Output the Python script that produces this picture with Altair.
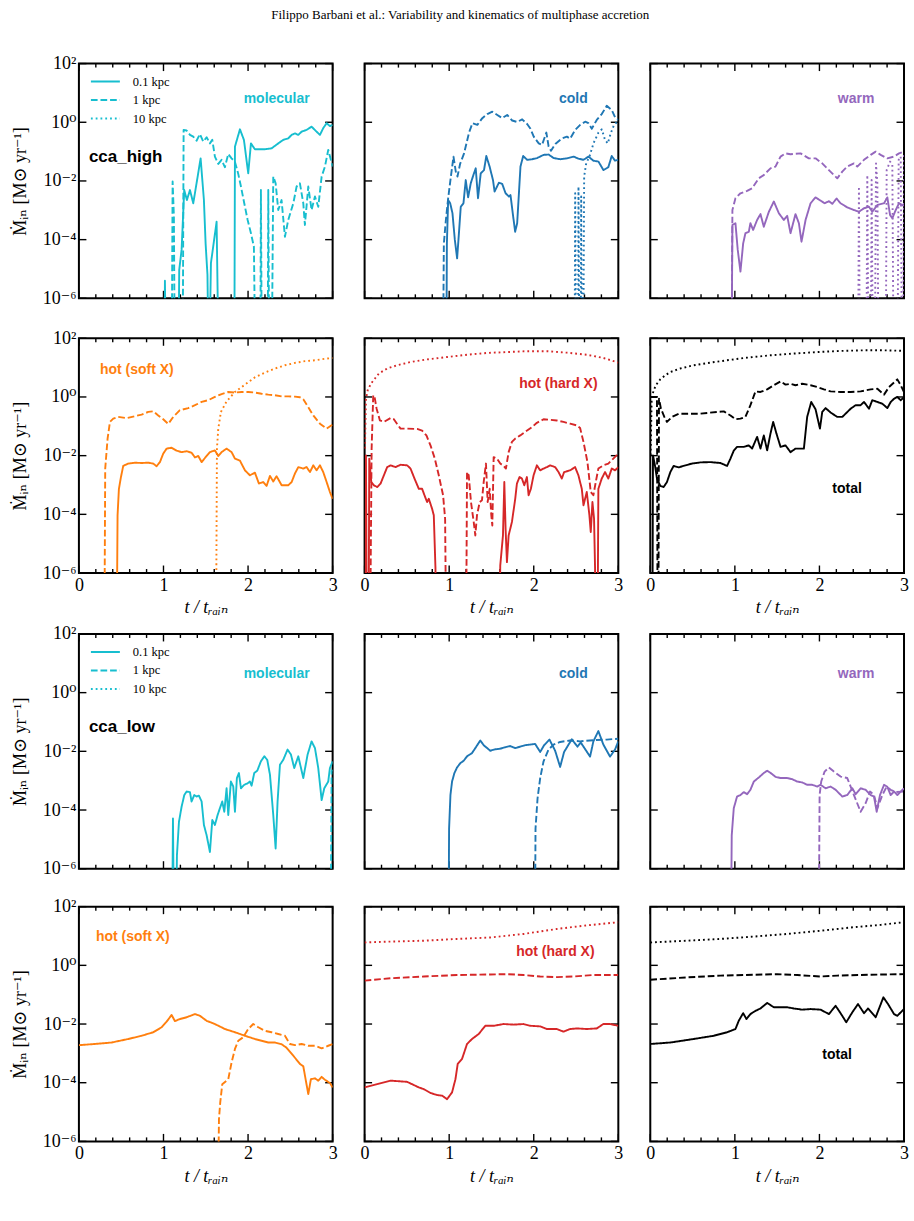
import altair as alt
import pandas as pd

SERIF = "Liberation Serif, DejaVu Serif, serif"
SANS = "Liberation Sans, Arimo, DejaVu Sans, sans-serif"

CYAN = "#17becf"
BLUE = "#1f77b4"
PURPLE = "#9467bd"
ORANGE = "#ff7f0e"
RED = "#d62728"
BLACK = "#000000"

W, H = 254, 235
ZERO = -9.0  # log10 value used where the inflow rate is zero (drawn below the axis)

RADII = ["0.1 kpc", "1 kpc", "10 kpc"]
DASHES = [[1, 0], [6.7, 2.9], [1.8, 3.0]]

Y_TICKS = [1e-6, 1e-4, 1e-2, 1e0, 1e2]
X_LABELS = [0, 1, 2, 3]
X_MINOR = [0.2, 0.4, 0.6, 0.8, 1.2, 1.4, 1.6, 1.8, 2.2, 2.4, 2.6, 2.8]

# ---------------------------------------------------------------- cca_high
mol_h_01_t = [1.01, 1.017, 1.033, 1.175, 1.186, 1.214, 1.245, 1.277, 1.313, 1.352, 1.391, 1.439, 1.478, 1.498, 1.52, 1.537, 1.561, 1.628, 1.656, 1.837, 1.845, 1.904, 1.951, 2.002, 2.034, 2.081, 2.14, 2.2, 2.278, 2.357, 2.416, 2.475, 2.515, 2.554, 2.594, 2.633, 2.692, 2.751, 2.81, 2.85, 2.889, 2.929, 2.968, 3.0]
mol_h_01_lg = [ZERO, -5.4, ZERO, ZERO, -5.03, -4.35, -2.31, -2.65, -2.31, -2.76, -2.08, -1.23, -2.65, -4.13, -5.2, ZERO, -4.8, -3.39, ZERO, ZERO, -0.83, -0.24, -0.6, -1.74, -0.72, -0.92, -0.92, -0.92, -0.89, -0.72, -0.6, -0.55, -0.43, -0.38, -0.43, -0.32, -0.26, -0.15, -0.32, -0.43, -0.2, -0.03, -0.13, -0.09]
mol_h_1_t = [1.096, 1.108, 1.123, 1.135, 1.226, 1.238, 1.273, 1.313, 1.352, 1.391, 1.431, 1.47, 1.51, 1.549, 1.577, 1.608, 1.648, 1.687, 1.726, 1.766, 1.805, 1.845, 1.884, 1.916, 1.955, 1.995, 2.034, 2.069, 2.089, 2.144, 2.152, 2.164, 2.231, 2.239, 2.251, 2.278, 2.298, 2.326, 2.357, 2.396, 2.436, 2.475, 2.535, 2.574, 2.613, 2.653, 2.672, 2.712, 2.751, 2.791, 2.83, 2.87, 2.909, 2.948, 3.0]
mol_h_1_lg = [ZERO, -2.02, -3.2, ZERO, ZERO, -0.26, -0.28, -0.43, -0.49, -0.63, -0.4, -0.66, -0.51, -0.72, -0.6, -1.17, -1.42, -1.28, -1.53, -1.08, -1.23, -1.35, -1.76, -2.19, -2.76, -3.33, -3.78, -4.24, ZERO, ZERO, -2.31, ZERO, ZERO, -2.31, ZERO, ZERO, -1.85, -2.08, -2.99, -2.65, -3.9, -3.33, -2.76, -2.19, -2.08, -2.76, -3.5, -2.19, -2.99, -2.53, -2.88, -1.85, -1.51, -0.94, -1.51]

cold_h_01_t = [0.965, 0.973, 0.988, 1.012, 1.039, 1.067, 1.094, 1.118, 1.137, 1.169, 1.196, 1.224, 1.255, 1.286, 1.314, 1.341, 1.373, 1.412, 1.439, 1.478, 1.518, 1.537, 1.588, 1.627, 1.667, 1.706, 1.725, 1.757, 1.78, 1.804, 1.843, 1.875, 1.922, 1.98, 2.039, 2.118, 2.176, 2.235, 2.314, 2.392, 2.471, 2.529, 2.588, 2.647, 2.706, 2.765, 2.824, 2.882, 2.922, 2.961, 3.0]
cold_h_01_lg = [ZERO, -4.13, -2.65, -2.76, -3.1, -4.01, -4.64, -3.67, -2.88, -2.76, -1.97, -2.56, -2.08, -1.8, -1.57, -2.59, -1.74, -1.63, -1.15, -1.51, -1.97, -2.36, -2.06, -2.1, -2.42, -2.53, -2.48, -3.22, -3.73, -3.44, -1.51, -1.15, -1.28, -1.26, -1.22, -1.11, -1.1, -1.22, -1.26, -1.23, -1.17, -1.24, -1.28, -1.17, -1.31, -1.34, -1.63, -1.53, -1.15, -1.31, -1.28]
cold_h_1_t = [0.925, 0.937, 0.961, 0.988, 1.02, 1.051, 1.078, 1.098, 1.129, 1.176, 1.235, 1.275, 1.333, 1.392, 1.451, 1.51, 1.569, 1.627, 1.686, 1.745, 1.804, 1.863, 1.922, 1.961, 2.0, 2.059, 2.098, 2.149, 2.176, 2.204, 2.255, 2.333, 2.392, 2.431, 2.49, 2.549, 2.608, 2.647, 2.686, 2.745, 2.804, 2.863, 2.922, 2.961, 3.0]
cold_h_1_lg = [ZERO, -4.13, -3.33, -2.59, -1.85, -1.17, -1.68, -1.85, -1.42, -1.06, -0.35, -0.03, -0.09, 0.14, 0.28, 0.36, 0.25, 0.14, 0.25, 0.06, 0.01, 0.1, -0.06, -0.22, -0.49, -0.72, -0.77, -0.35, -0.83, -0.97, -0.74, -0.55, -0.49, -0.56, -0.26, -0.09, 0.02, -0.03, -0.22, 0.08, 0.28, 0.56, 0.42, 0.17, 0.08]
cold_h_10_t = [2.482, 2.49, 2.502, 2.522, 2.529, 2.541, 2.553, 2.561, 2.573, 2.584, 2.596, 2.62, 2.659, 2.706, 2.765, 2.804, 2.843, 2.875, 2.91, 2.949, 3.0]
cold_h_10_lg = [ZERO, -2.42, ZERO, ZERO, -2.19, ZERO, ZERO, -2.53, ZERO, ZERO, -1.85, -1.4, -1.17, -0.72, -0.35, -0.24, -0.6, -0.72, -0.38, -0.09, 0.06]

warm_h_01_t = [0.959, 0.971, 1.007, 1.034, 1.066, 1.098, 1.125, 1.165, 1.184, 1.216, 1.263, 1.303, 1.342, 1.402, 1.461, 1.52, 1.579, 1.619, 1.658, 1.717, 1.757, 1.788, 1.836, 1.895, 1.954, 2.013, 2.061, 2.112, 2.152, 2.203, 2.25, 2.329, 2.408, 2.467, 2.527, 2.586, 2.625, 2.685, 2.764, 2.803, 2.835, 2.862, 2.902, 2.941, 3.0]
warm_h_01_lg = [ZERO, -3.5, -3.44, -4.35, -5.09, -4.13, -3.78, -3.73, -3.44, -3.67, -3.33, -3.13, -3.56, -3.05, -2.7, -3.1, -3.33, -3.19, -3.78, -3.13, -3.44, -4.07, -3.33, -2.76, -2.56, -2.67, -2.76, -2.69, -2.78, -2.6, -2.76, -2.9, -2.99, -3.05, -2.93, -2.88, -3.05, -2.82, -2.76, -2.56, -3.16, -3.27, -2.99, -2.76, -2.85]
warm_h_1_t = [0.959, 0.971, 1.007, 1.066, 1.145, 1.204, 1.283, 1.342, 1.421, 1.48, 1.54, 1.599, 1.658, 1.777, 1.875, 1.954, 2.033, 2.112, 2.211, 2.27, 2.329, 2.408, 2.448, 2.527, 2.606, 2.665, 2.724, 2.803, 2.882, 2.941, 3.0]
warm_h_1_lg = [ZERO, -2.99, -2.59, -2.42, -2.34, -2.25, -1.91, -1.8, -1.57, -1.51, -1.17, -1.06, -1.09, -1.06, -1.23, -1.23, -1.4, -1.63, -1.91, -1.68, -1.51, -1.4, -1.51, -1.28, -1.11, -1.0, -1.11, -1.23, -1.17, -1.06, -1.0]
warm_h_10_t = [2.456, 2.467, 2.479, 2.554, 2.566, 2.582, 2.606, 2.617, 2.633, 2.653, 2.669, 2.685, 2.7, 2.783, 2.795, 2.835, 2.862, 2.878, 2.921, 2.937, 2.961, 2.977, 2.992, 3.0]
warm_h_10_lg = [ZERO, -2.19, ZERO, ZERO, -1.8, ZERO, ZERO, -1.97, ZERO, ZERO, -1.4, -2.08, ZERO, ZERO, -1.63, -1.34, -1.45, ZERO, ZERO, -1.28, -1.17, ZERO, ZERO, -1.06]

soft_h_01_t = [0.445, 0.457, 0.473, 0.497, 0.524, 0.583, 0.662, 0.741, 0.82, 0.879, 0.918, 0.958, 0.997, 1.037, 1.096, 1.155, 1.214, 1.273, 1.332, 1.372, 1.411, 1.451, 1.49, 1.549, 1.608, 1.648, 1.687, 1.746, 1.805, 1.845, 1.904, 1.963, 2.022, 2.081, 2.128, 2.18, 2.219, 2.259, 2.298, 2.337, 2.397, 2.475, 2.515, 2.554, 2.594, 2.653, 2.692, 2.732, 2.771, 2.81, 2.85, 2.889, 2.929, 2.968, 3.0]
soft_h_01_lg = [ZERO, -4.03, -3.13, -2.73, -2.35, -2.27, -2.24, -2.25, -2.24, -2.27, -2.36, -2.22, -1.93, -1.76, -1.73, -1.83, -1.88, -1.85, -1.9, -2.06, -2.01, -2.22, -2.08, -1.88, -1.82, -2.01, -1.88, -1.76, -1.88, -2.1, -2.17, -2.5, -2.67, -2.58, -2.95, -2.9, -3.03, -2.69, -2.88, -2.7, -3.01, -3.01, -2.9, -2.61, -2.39, -2.44, -2.39, -2.56, -2.33, -2.5, -2.33, -2.56, -2.9, -3.24, -3.47]
soft_h_1_t = [0.3, 0.311, 0.339, 0.367, 0.406, 0.465, 0.564, 0.642, 0.741, 0.82, 0.879, 0.938, 0.997, 1.056, 1.115, 1.194, 1.293, 1.372, 1.451, 1.529, 1.608, 1.687, 1.766, 1.845, 1.924, 2.002, 2.081, 2.16, 2.239, 2.318, 2.397, 2.475, 2.554, 2.613, 2.653, 2.704, 2.771, 2.85, 2.929, 3.0]
soft_h_1_lg = [ZERO, -2.44, -1.42, -0.85, -0.74, -0.68, -0.72, -0.67, -0.6, -0.51, -0.49, -0.63, -0.76, -0.92, -0.68, -0.45, -0.38, -0.28, -0.17, -0.11, 0.0, 0.1, 0.17, 0.15, 0.17, 0.17, 0.15, 0.11, 0.08, 0.06, 0.02, 0.02, 0.01, -0.01, -0.08, -0.31, -0.63, -0.91, -1.08, -0.94]
soft_h_10_t = [1.62, 1.632, 1.648, 1.679, 1.746, 1.845, 1.963, 2.081, 2.199, 2.318, 2.436, 2.554, 2.672, 2.791, 2.909, 3.0]
soft_h_10_lg = [ZERO, -1.76, -1.08, -0.51, -0.15, 0.17, 0.42, 0.67, 0.83, 0.97, 1.08, 1.16, 1.22, 1.25, 1.3, 1.33]

hard_h_01_t = [0.008, 0.016, 0.028, 0.047, 0.055, 0.079, 0.11, 0.149, 0.189, 0.228, 0.267, 0.307, 0.366, 0.425, 0.503, 0.543, 0.59, 0.641, 0.68, 0.708, 0.739, 0.759, 0.798, 0.818, 0.838, 0.845, 1.589, 1.604, 1.636, 1.652, 1.667, 1.683, 1.703, 1.742, 1.781, 1.801, 1.832, 1.86, 1.888, 1.919, 1.939, 1.966, 1.998, 2.037, 2.076, 2.116, 2.155, 2.194, 2.253, 2.293, 2.332, 2.359, 2.43, 2.489, 2.528, 2.568, 2.588, 2.627, 2.658, 2.674, 2.694, 2.713, 2.725, 2.733, 2.753, 2.764, 2.804, 2.843, 2.882, 2.922, 2.961, 3.0]
hard_h_01_lg = [ZERO, -1.99, ZERO, ZERO, -2.1, -2.9, -3.01, -3.07, -2.95, -2.67, -2.39, -2.33, -2.39, -2.31, -2.33, -2.44, -2.78, -3.13, -3.13, -3.35, -3.58, -3.47, -3.81, -4.03, -5.85, ZERO, ZERO, -5.74, -4.72, -2.9, -4.49, -5.63, -4.72, -4.26, -3.47, -2.95, -2.73, -2.78, -3.01, -2.73, -3.35, -3.13, -2.67, -2.33, -2.5, -2.44, -2.39, -2.33, -2.39, -2.56, -2.78, -2.56, -2.5, -2.39, -2.67, -3.13, -3.69, -3.24, -4.03, -4.6, -3.58, -4.15, -5.85, ZERO, ZERO, -3.13, -2.78, -2.56, -2.78, -2.44, -2.5, -2.39]
hard_h_1_t = [0.063, 0.083, 0.102, 0.118, 0.142, 0.181, 0.228, 0.307, 0.346, 0.385, 0.425, 0.503, 0.621, 0.68, 0.731, 0.779, 0.83, 0.877, 0.928, 0.952, 0.967, 1.199, 1.211, 1.231, 1.258, 1.29, 1.309, 1.329, 1.361, 1.388, 1.408, 1.435, 1.455, 1.479, 1.498, 1.51, 1.526, 1.565, 1.604, 1.644, 1.671, 1.703, 1.742, 1.781, 1.84, 1.899, 1.978, 2.037, 2.116, 2.194, 2.273, 2.352, 2.43, 2.509, 2.548, 2.588, 2.635, 2.674, 2.705, 2.737, 2.764, 2.823, 2.882, 2.941, 3.0]
hard_h_1_lg = [ZERO, -1.76, 0.06, 0.0, -0.4, -0.8, -0.85, -0.72, -0.76, -0.92, -1.08, -1.08, -1.09, -1.15, -1.31, -1.65, -2.1, -2.67, -3.35, -4.15, ZERO, ZERO, -2.56, -2.67, -3.58, -4.26, -4.72, -4.03, -3.58, -3.52, -2.9, -2.27, -3.58, -3.13, -4.03, -4.38, -2.05, -2.1, -2.27, -2.35, -2.44, -1.88, -1.53, -1.42, -1.31, -1.19, -1.03, -0.88, -0.76, -0.78, -0.8, -0.85, -0.91, -0.97, -1.06, -1.53, -2.22, -3.24, -3.35, -2.84, -2.44, -2.33, -2.27, -2.1, -1.93]
hard_h_10_t = [0.004, 0.016, 0.039, 0.09, 0.169, 0.267, 0.385, 0.543, 0.739, 0.975, 1.211, 1.447, 1.683, 1.919, 2.155, 2.391, 2.627, 2.823, 3.0]
hard_h_10_lg = [-1.76, -0.06, 0.26, 0.51, 0.8, 0.97, 1.08, 1.19, 1.28, 1.36, 1.44, 1.5, 1.53, 1.56, 1.56, 1.51, 1.44, 1.33, 1.17]

tot_h_01_t = [0.024, 0.032, 0.055, 0.079, 0.118, 0.158, 0.197, 0.237, 0.276, 0.336, 0.415, 0.493, 0.592, 0.711, 0.829, 0.908, 0.948, 0.987, 1.026, 1.105, 1.165, 1.204, 1.263, 1.303, 1.342, 1.382, 1.421, 1.453, 1.492, 1.54, 1.599, 1.658, 1.717, 1.816, 1.855, 1.903, 1.954, 2.006, 2.033, 2.073, 2.132, 2.211, 2.27, 2.369, 2.428, 2.487, 2.527, 2.586, 2.625, 2.685, 2.744, 2.803, 2.843, 2.882, 2.921, 2.961, 3.0]
tot_h_01_lg = [ZERO, -1.99, -2.33, -2.78, -3.03, -3.07, -2.9, -2.56, -2.35, -2.4, -2.33, -2.27, -2.23, -2.22, -2.25, -2.35, -2.1, -1.83, -1.7, -1.7, -1.65, -1.76, -1.36, -1.76, -1.31, -1.82, -1.25, -0.85, -1.25, -1.7, -1.65, -1.88, -1.76, -1.76, -0.68, -0.17, -0.42, -1.08, -0.51, -0.38, -0.53, -0.68, -0.68, -0.4, -0.28, -0.28, -0.17, -0.4, -0.11, -0.17, -0.23, -0.38, -0.17, -0.06, 0.0, -0.11, -0.01]
tot_h_1_t = [0.004, 0.079, 0.087, 0.095, 0.103, 0.126, 0.166, 0.197, 0.257, 0.336, 0.434, 0.592, 0.79, 0.869, 0.948, 1.007, 1.066, 1.125, 1.184, 1.244, 1.303, 1.382, 1.461, 1.54, 1.599, 1.658, 1.717, 1.796, 1.895, 1.974, 2.053, 2.132, 2.25, 2.369, 2.487, 2.606, 2.685, 2.764, 2.823, 2.921, 2.961, 3.0]
tot_h_1_lg = [0.0, 0.0, ZERO, ZERO, -0.06, -0.4, -0.68, -0.85, -0.68, -0.57, -0.57, -0.57, -0.51, -0.49, -0.63, -0.76, -0.74, -0.68, -0.28, 0.19, 0.17, 0.26, 0.4, 0.53, 0.42, 0.45, 0.4, 0.45, 0.4, 0.34, 0.26, 0.19, 0.17, 0.17, 0.19, 0.26, 0.28, 0.08, 0.34, 0.6, 0.4, 0.17]
tot_h_10_t = [0.004, 0.016, 0.039, 0.079, 0.118, 0.178, 0.237, 0.355, 0.513, 0.711, 0.908, 1.145, 1.421, 1.698, 1.974, 2.25, 2.527, 2.764, 3.0]
tot_h_10_lg = [-1.99, -0.11, 0.23, 0.45, 0.6, 0.74, 0.85, 0.97, 1.08, 1.17, 1.25, 1.34, 1.42, 1.48, 1.53, 1.57, 1.59, 1.59, 1.57]

# ---------------------------------------------------------------- cca_low
mol_l_01_t = [1.1, 1.112, 1.127, 1.143, 1.159, 1.183, 1.214, 1.246, 1.273, 1.313, 1.332, 1.364, 1.391, 1.419, 1.451, 1.478, 1.51, 1.549, 1.577, 1.608, 1.64, 1.667, 1.695, 1.719, 1.746, 1.766, 1.797, 1.825, 1.845, 1.868, 1.892, 1.916, 1.955, 1.995, 2.022, 2.042, 2.073, 2.109, 2.152, 2.192, 2.227, 2.259, 2.298, 2.326, 2.349, 2.377, 2.416, 2.467, 2.507, 2.546, 2.594, 2.653, 2.704, 2.751, 2.791, 2.83, 2.87, 2.901, 2.948, 2.968, 3.0]
mol_l_01_lg = [ZERO, -4.29, ZERO, ZERO, -5.54, -4.4, -3.89, -3.49, -3.37, -3.39, -3.71, -3.49, -3.54, -3.51, -3.71, -4.51, -4.86, -5.43, -4.34, -4.51, -4.17, -3.94, -3.71, -4.06, -3.26, -4.17, -3.03, -3.2, -4.06, -2.91, -2.74, -3.26, -3.14, -3.09, -3.03, -3.17, -2.74, -2.66, -2.34, -2.17, -2.29, -2.8, -4.17, -5.31, -3.71, -2.46, -2.29, -1.94, -2.11, -2.57, -2.17, -2.91, -2.11, -1.66, -1.89, -2.57, -3.66, -3.26, -3.03, -2.57, -2.34]
mol_l_1_t = [2.976, 2.988, 3.0]
mol_l_1_lg = [ZERO, -2.69, -2.63]

cold_l_01_t = [0.991, 0.999, 1.015, 1.034, 1.062, 1.093, 1.133, 1.172, 1.211, 1.27, 1.309, 1.368, 1.408, 1.486, 1.545, 1.604, 1.663, 1.722, 1.781, 1.84, 1.899, 1.958, 2.017, 2.076, 2.123, 2.186, 2.253, 2.312, 2.359, 2.45, 2.517, 2.556, 2.666, 2.705, 2.764, 2.823, 2.902, 2.961, 3.0]
cold_l_01_lg = [ZERO, -4.63, -3.49, -3.03, -2.74, -2.55, -2.4, -2.32, -2.17, -2.06, -1.89, -1.63, -1.79, -1.98, -1.93, -1.91, -1.86, -1.82, -1.89, -1.84, -1.79, -1.77, -1.75, -2.02, -1.79, -1.6, -1.98, -2.53, -2.02, -1.59, -1.84, -1.7, -2.18, -1.66, -1.31, -1.77, -2.18, -1.94, -1.66]
cold_l_1_t = [2.013, 2.021, 2.045, 2.076, 2.116, 2.175, 2.234, 2.312, 2.43, 2.548, 2.705, 2.863, 3.0]
cold_l_1_lg = [ZERO, -4.63, -3.6, -2.91, -2.34, -1.94, -1.77, -1.68, -1.63, -1.66, -1.62, -1.6, -1.57]

warm_l_01_t = [0.951, 0.963, 0.987, 1.026, 1.066, 1.105, 1.145, 1.184, 1.224, 1.283, 1.342, 1.382, 1.429, 1.48, 1.54, 1.619, 1.678, 1.737, 1.796, 1.855, 1.915, 1.974, 2.013, 2.073, 2.132, 2.191, 2.27, 2.329, 2.389, 2.428, 2.487, 2.546, 2.606, 2.645, 2.677, 2.716, 2.764, 2.803, 2.842, 2.882, 2.921, 3.0]
warm_l_01_lg = [ZERO, -4.86, -3.94, -3.54, -3.49, -3.39, -3.46, -3.31, -3.03, -2.89, -2.74, -2.66, -2.75, -2.87, -2.91, -2.91, -2.95, -3.03, -3.06, -3.14, -3.14, -3.2, -3.14, -3.26, -3.2, -3.31, -3.54, -3.49, -3.26, -3.46, -3.26, -3.31, -3.49, -3.54, -4.06, -3.49, -3.14, -3.21, -3.49, -3.37, -3.49, -3.26]
warm_l_1_t = [1.99, 2.002, 2.021, 2.061, 2.112, 2.171, 2.25, 2.329, 2.408, 2.487, 2.546, 2.598, 2.645, 2.685, 2.744, 2.795, 2.842, 2.902, 3.0]
warm_l_1_lg = [ZERO, -3.49, -3.03, -2.69, -2.55, -2.69, -2.86, -2.91, -3.49, -4.06, -3.77, -3.37, -3.49, -3.94, -3.49, -3.2, -3.31, -3.39, -3.37]

soft_l_01_t = [0.0, 0.189, 0.386, 0.583, 0.741, 0.879, 0.978, 1.037, 1.096, 1.135, 1.194, 1.273, 1.372, 1.431, 1.51, 1.608, 1.726, 1.845, 1.963, 2.081, 2.16, 2.239, 2.318, 2.397, 2.456, 2.535, 2.613, 2.653, 2.712, 2.743, 2.791, 2.83, 2.87, 2.909, 2.968, 3.0]
soft_l_01_lg = [-2.72, -2.68, -2.63, -2.51, -2.4, -2.28, -2.11, -1.92, -1.69, -1.9, -1.83, -1.77, -1.66, -1.72, -1.89, -2.0, -2.17, -2.28, -2.4, -2.51, -2.57, -2.63, -2.63, -2.69, -2.81, -3.08, -3.36, -3.44, -4.39, -3.88, -3.85, -3.93, -3.8, -3.9, -4.01, -4.16]
soft_l_1_t = [1.64, 1.656, 1.671, 1.695, 1.766, 1.805, 1.845, 1.884, 1.943, 2.002, 2.061, 2.121, 2.199, 2.278, 2.357, 2.436, 2.495, 2.554, 2.633, 2.712, 2.791, 2.87, 2.948, 3.0]
soft_l_1_lg = [ZERO, -5.24, -4.67, -4.05, -3.88, -3.31, -2.85, -2.57, -2.45, -2.17, -2.0, -2.11, -2.23, -2.28, -2.34, -2.4, -2.68, -2.72, -2.68, -2.74, -2.74, -2.83, -2.74, -2.68]

hard_l_01_t = [0.0, 0.149, 0.307, 0.503, 0.641, 0.7, 0.779, 0.857, 0.916, 0.975, 1.034, 1.074, 1.101, 1.152, 1.211, 1.27, 1.349, 1.427, 1.526, 1.644, 1.762, 1.88, 1.958, 2.076, 2.155, 2.273, 2.352, 2.43, 2.509, 2.627, 2.745, 2.823, 2.902, 3.0]
hard_l_01_lg = [-4.16, -4.05, -3.93, -3.97, -4.16, -4.22, -4.35, -4.42, -4.44, -4.56, -4.33, -3.88, -3.36, -3.19, -2.68, -2.51, -2.34, -2.06, -2.06, -2.0, -2.02, -2.0, -2.06, -2.08, -2.17, -2.17, -2.26, -2.17, -2.15, -2.17, -2.15, -2.0, -2.0, -2.06]
hard_l_1_t = [0.0, 0.307, 0.7, 1.093, 1.486, 1.683, 1.88, 2.076, 2.273, 2.469, 2.705, 3.0]
hard_l_1_lg = [-0.52, -0.44, -0.38, -0.33, -0.31, -0.3, -0.33, -0.38, -0.4, -0.38, -0.33, -0.33]
hard_l_10_t = [0.0, 0.307, 0.7, 1.093, 1.486, 1.88, 2.273, 2.588, 3.0]
hard_l_10_lg = [0.78, 0.81, 0.84, 0.9, 0.95, 1.07, 1.24, 1.35, 1.47]

tot_l_01_t = [0.0, 0.237, 0.513, 0.75, 0.908, 1.007, 1.046, 1.098, 1.137, 1.184, 1.244, 1.303, 1.382, 1.461, 1.54, 1.619, 1.698, 1.796, 1.895, 2.013, 2.112, 2.191, 2.25, 2.317, 2.389, 2.456, 2.527, 2.574, 2.665, 2.756, 2.811, 2.882, 2.921, 3.0]
tot_l_01_lg = [-2.68, -2.63, -2.51, -2.4, -2.28, -2.17, -1.89, -1.63, -1.83, -1.66, -1.55, -1.47, -1.28, -1.43, -1.43, -1.43, -1.47, -1.51, -1.49, -1.51, -1.66, -1.38, -1.63, -1.94, -1.6, -1.32, -1.63, -1.47, -1.77, -1.09, -1.32, -1.66, -1.72, -1.49]
tot_l_1_t = [0.0, 0.434, 0.829, 1.224, 1.5, 1.737, 2.013, 2.211, 2.606, 3.0]
tot_l_1_lg = [-0.49, -0.41, -0.35, -0.32, -0.3, -0.33, -0.38, -0.35, -0.32, -0.3]
tot_l_10_t = [0.0, 0.434, 0.829, 1.224, 1.619, 2.013, 2.408, 2.724, 3.0]
tot_l_10_lg = [0.78, 0.84, 0.9, 0.98, 1.07, 1.18, 1.3, 1.38, 1.47]

# ---------------------------------------------------------------- scales and guides
XSCALE = alt.Scale(domain=[0, 3], nice=False, zero=False)
YSCALE = alt.Scale(type="log", domain=[1e-6, 1e2], nice=False)
DASH_SCALE = alt.Scale(domain=RADII, range=DASHES)

X_TITLE = "t / tᵣₐᵢₙ"
Y_TITLE = "Ṁᵢₙ [M⊙ yr⁻¹]"

X_AXIS = alt.Axis(
    values=X_LABELS, format="d", ticks=False, domain=False, grid=False,
    labelFont=SERIF, labelFontSize=18, labelColor=BLACK, labelPadding=3,
    labelFlush=False, labelOverlap=False,
    titleFont=SERIF, titleFontSize=18, titleFontWeight="normal",
    titleFontStyle="italic", titleColor=BLACK, titlePadding=5,
)
Y_AXIS = alt.Axis(
    values=Y_TICKS, ticks=False, domain=False, grid=False,
    labelExpr="'10' + ['⁻⁶','⁻⁵','⁻⁴','⁻³','⁻²','⁻¹','⁰','¹','²'][round(log(datum.value) / LN10) + 6]",
    labelFont=SERIF, labelFontSize=18, labelColor=BLACK, labelPadding=3,
    labelOverlap=False, labelFlush=False,
    titleFont=SERIF, titleFontSize=18, titleFontWeight="normal",
    titleColor=BLACK, titlePadding=2, minExtent=47, maxExtent=47,
)


def dash_legend(color):
    return alt.Legend(
        orient="none", legendX=15.5, legendY=7, title=None, padding=0,
        symbolType="M-1.45,0H1.45", symbolSize=400, symbolStrokeWidth=2,
        symbolStrokeColor=color, symbolFillColor="transparent",
        labelFont=SERIF, labelFontSize=12.5, labelColor=BLACK,
        labelOffset=16.5, rowPadding=0.5,
    )


yt_df = pd.DataFrame({"m": Y_TICKS})
xmaj_df = pd.DataFrame({"t": X_LABELS})
xmin_df = pd.DataFrame({"t": X_MINOR})
one_df = pd.DataFrame({"t": [0]})


def panel(series, color, name, name_xy, xaxis=False, yaxis=False,
          legend=False, run=None):
    rows = []
    for radius, ts, lgs in series:
        for i, (t, lg) in enumerate(zip(ts, lgs)):
            rows.append({"t": t, "m": 10.0 ** lg, "r": radius, "i": i})
    df = pd.DataFrame(rows)

    X = alt.X("t:Q", scale=XSCALE, axis=X_AXIS if xaxis else None, title=X_TITLE)
    Y = alt.Y("m:Q", scale=YSCALE, axis=Y_AXIS if yaxis else None, title=Y_TITLE)

    tick = dict(color=BLACK, strokeWidth=1.4)
    layers = [
        alt.Chart(yt_df).mark_rule(**tick).encode(y=Y, x=alt.value(0), x2=alt.value(7.5)),
        alt.Chart(yt_df).mark_rule(**tick).encode(y=Y, x=alt.value(W - 7.5), x2=alt.value(W)),
        alt.Chart(xmaj_df).mark_rule(**tick).encode(x=X, y=alt.value(0), y2=alt.value(7.5)),
        alt.Chart(xmin_df).mark_rule(**tick).encode(x=X, y=alt.value(0), y2=alt.value(4)),
        alt.Chart(xmaj_df).mark_rule(**tick).encode(x=X, y=alt.value(H - 7.5), y2=alt.value(H)),
        alt.Chart(xmin_df).mark_rule(**tick).encode(x=X, y=alt.value(H - 4), y2=alt.value(H)),
        alt.Chart(df).mark_line(
            clip=True, color=color, strokeWidth=1.9, strokeJoin="round", strokeCap="butt"
        ).encode(
            x=X, y=Y,
            strokeDash=alt.StrokeDash("r:N", scale=DASH_SCALE,
                                      legend=dash_legend(color) if legend else None),
            order=alt.Order("i:Q"),
        ),
        alt.Chart(one_df).mark_text(
            font=SANS, fontSize=14, fontWeight="bold", color=color,
            align="center", baseline="middle",
        ).encode(x=alt.value(name_xy[0]), y=alt.value(name_xy[1]), text=alt.value(name)),
    ]
    if run is not None:
        layers.append(
            alt.Chart(one_df).mark_text(
                font=SANS, fontSize=17, fontWeight="bold", color=BLACK,
                align="left", baseline="middle",
            ).encode(x=alt.value(10), y=alt.value(run[1]), text=alt.value(run[0]))
        )
    return alt.layer(*layers).properties(width=W, height=H)


def independent(c):
    return c.resolve_scale(strokeDash="independent").resolve_legend(strokeDash="independent")


def row(*panels):
    return independent(alt.hconcat(*panels, spacing=32, bounds="flush"))


row1 = row(
    panel([("0.1 kpc", mol_h_01_t, mol_h_01_lg), ("1 kpc", mol_h_1_t, mol_h_1_lg)],
          CYAN, "molecular", (198, 35), yaxis=True, legend=True, run=("cca_high", 94)),
    panel([("0.1 kpc", cold_h_01_t, cold_h_01_lg), ("1 kpc", cold_h_1_t, cold_h_1_lg),
           ("10 kpc", cold_h_10_t, cold_h_10_lg)], BLUE, "cold", (209, 35)),
    panel([("0.1 kpc", warm_h_01_t, warm_h_01_lg), ("1 kpc", warm_h_1_t, warm_h_1_lg),
           ("10 kpc", warm_h_10_t, warm_h_10_lg)], PURPLE, "warm", (206, 35)),
)
row2 = row(
    panel([("0.1 kpc", soft_h_01_t, soft_h_01_lg), ("1 kpc", soft_h_1_t, soft_h_1_lg),
           ("10 kpc", soft_h_10_t, soft_h_10_lg)], ORANGE, "hot (soft X)", (58, 32),
          xaxis=True, yaxis=True),
    panel([("0.1 kpc", hard_h_01_t, hard_h_01_lg), ("1 kpc", hard_h_1_t, hard_h_1_lg),
           ("10 kpc", hard_h_10_t, hard_h_10_lg)], RED, "hot (hard X)", (194, 46), xaxis=True),
    panel([("0.1 kpc", tot_h_01_t, tot_h_01_lg), ("1 kpc", tot_h_1_t, tot_h_1_lg),
           ("10 kpc", tot_h_10_t, tot_h_10_lg)], BLACK, "total", (197, 151), xaxis=True),
)
row3 = row(
    panel([("0.1 kpc", mol_l_01_t, mol_l_01_lg), ("1 kpc", mol_l_1_t, mol_l_1_lg)],
          CYAN, "molecular", (198, 40), yaxis=True, legend=True, run=("cca_low", 93)),
    panel([("0.1 kpc", cold_l_01_t, cold_l_01_lg), ("1 kpc", cold_l_1_t, cold_l_1_lg)],
          BLUE, "cold", (209, 40)),
    panel([("0.1 kpc", warm_l_01_t, warm_l_01_lg), ("1 kpc", warm_l_1_t, warm_l_1_lg)],
          PURPLE, "warm", (206, 40)),
)
row4 = row(
    panel([("0.1 kpc", soft_l_01_t, soft_l_01_lg), ("1 kpc", soft_l_1_t, soft_l_1_lg)],
          ORANGE, "hot (soft X)", (54, 30), xaxis=True, yaxis=True),
    panel([("0.1 kpc", hard_l_01_t, hard_l_01_lg), ("1 kpc", hard_l_1_t, hard_l_1_lg),
           ("10 kpc", hard_l_10_t, hard_l_10_lg)], RED, "hot (hard X)", (191, 45), xaxis=True),
    panel([("0.1 kpc", tot_l_01_t, tot_l_01_lg), ("1 kpc", tot_l_1_t, tot_l_1_lg),
           ("10 kpc", tot_l_10_t, tot_l_10_lg)], BLACK, "total", (187, 149), xaxis=True),
)

# rows stack by their full extent (tick labels included), so the gaps below
# account for the half-height of the 10^2 / 10^-6 labels at the panel edges
top = independent(alt.vconcat(row1, row2, spacing=20))
bottom = independent(alt.vconcat(row3, row4, spacing=18))

chart = independent(
    alt.vconcat(
        top, bottom, spacing=6,
        title=alt.TitleParams(
            text="Filippo Barbani et al.: Variability and kinematics of multiphase accretion",
            font=SERIF, fontSize=13, fontWeight="normal", color=BLACK,
            anchor="middle", offset=32,
        ),
    )
).properties(
    padding={"left": 11, "top": 8, "right": 4, "bottom": 4},
).configure(
    background="white",
).configure_view(
    stroke=BLACK, strokeWidth=2,
)

chart.save("out.html", embed_options={"renderer": "svg", "actions": False})
